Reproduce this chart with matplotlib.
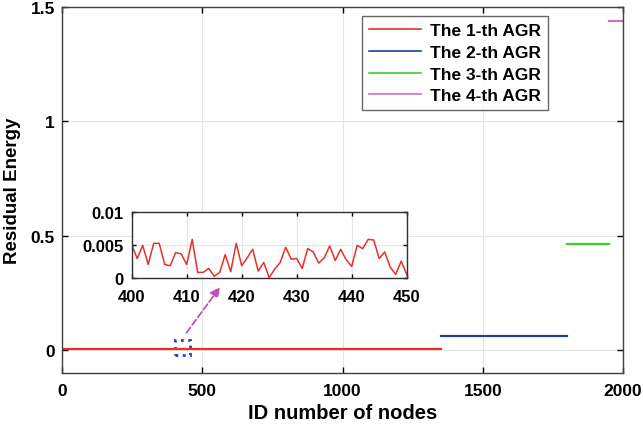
import matplotlib.pyplot as plt
from matplotlib.patches import Rectangle

plt.rcParams['font.family'] = ['Liberation Sans', 'DejaVu Sans']
plt.rcParams['font.weight'] = 'bold'

# node id ranges and residual energy of each AGR
agr1_x = [1, 400, 450, 1350]
agr1_y = [0.003, 0.003, 0.003, 0.003]
agr2_x = [1351, 1800]
agr2_y = [0.060, 0.060]
agr3_x = [1801, 1950]
agr3_y = [0.466, 0.466]
agr4_x = [1951, 2000]
agr4_y = [1.44, 1.44]

# zoomed part of the 1-th AGR, nodes 400..450
zoom_x = list(range(400, 451))
zoom_y = [0.0051, 0.0030, 0.0050, 0.0021, 0.0053, 0.0053, 0.0021, 0.0019, 0.0039, 0.0037,
          0.0021, 0.0059, 0.0009, 0.0009, 0.0015, 0.0003, 0.0009, 0.0036, 0.0010, 0.0053,
          0.0019, 0.0031, 0.0044, 0.0011, 0.0024, 0.0001, 0.0014, 0.0024, 0.0047, 0.0029,
          0.0030, 0.0015, 0.0045, 0.0040, 0.0023, 0.0031, 0.0049, 0.0027, 0.0044, 0.0028,
          0.0018, 0.0050, 0.0045, 0.0059, 0.0058, 0.0030, 0.0040, 0.0017, 0.0006, 0.0026,
          0.0006]

labels = ["The 1-th AGR", "The 2-th AGR", "The 3-th AGR", "The 4-th AGR"]
colors = ["#e8302a", "#2040a0", "#40cc30", "#d070c8"]

fig = plt.figure(figsize=(6.43, 4.31), dpi=100)
ax = fig.add_axes([62 / 643, 1 - 374 / 431, 561 / 643, 366 / 431])

ax.plot(agr1_x, agr1_y, color=colors[0], lw=1.6, label=labels[0])
ax.plot(agr2_x, agr2_y, color=colors[1], lw=1.6, label=labels[1])
ax.plot(agr3_x, agr3_y, color=colors[2], lw=1.6, label=labels[2])
ax.plot(agr4_x, agr4_y, color=colors[3], lw=1.6, label=labels[3])

ax.set_xlim(0, 2000)
ax.set_ylim(-0.1, 1.5)
ax.set_xticks([0, 500, 1000, 1500, 2000])
ax.set_yticks([0, 0.5, 1, 1.5])
ax.set_yticklabels(["0", "0.5", "1", "1.5"])
ax.grid(True, color="#e6e6e6", lw=0.8)
ax.tick_params(direction="in", labelsize=12.5, width=1, length=4, top=True, right=True)
ax.tick_params(axis="x", pad=7)
ax.tick_params(axis="y", pad=5)
for s in ax.spines.values():
    s.set_color("#404040")
    s.set_linewidth(1)
ax.set_xlabel("ID number of nodes", fontsize=14.5, fontweight="bold", labelpad=4)
ax.set_ylabel("Residual Energy", fontsize=13.5, fontweight="bold", labelpad=7)

leg = ax.legend(loc="upper right", bbox_to_anchor=(0.866, 0.975), borderaxespad=0,
                fontsize=12.5, frameon=True, fancybox=False, edgecolor="#404040",
                handlelength=3.0, borderpad=0.4, labelspacing=0.38, handletextpad=0.5)
leg.get_frame().set_linewidth(1)
for ln in leg.get_lines():
    ln.set_linewidth(1.2)

# dotted box around zoomed region and arrow to inset
ax.add_patch(Rectangle((402, -0.022), 53, 0.066, fill=False, ls=":", lw=2,
                       edgecolor="#2040c0"))
ax.annotate("", xy=(569, 0.285), xytext=(438, 0.066),
            arrowprops=dict(arrowstyle="-|>", ls="--", color="#c050c0", lw=1.3,
                            mutation_scale=14))

ins = fig.add_axes([131.7 / 643, 1 - 279.3 / 431, 275 / 643, 66 / 431])
ins.plot(zoom_x, zoom_y, color=colors[0], lw=1.1)
ins.set_xlim(400, 450)
ins.set_ylim(0, 0.01)
ins.set_xticks([400, 410, 420, 430, 440, 450])
ins.set_yticks([0, 0.005, 0.01])
ins.set_yticklabels(["0", "0.005", "0.01"])
ins.grid(True, color="#e6e6e6", lw=0.8)
ins.tick_params(direction="in", labelsize=12, width=1, length=3, top=True, right=True)
ins.tick_params(axis="x", pad=8)
ins.tick_params(axis="y", pad=6)
for s in ins.spines.values():
    s.set_color("#303030")
    s.set_linewidth(1)

fig.savefig("out.png", dpi=100)
